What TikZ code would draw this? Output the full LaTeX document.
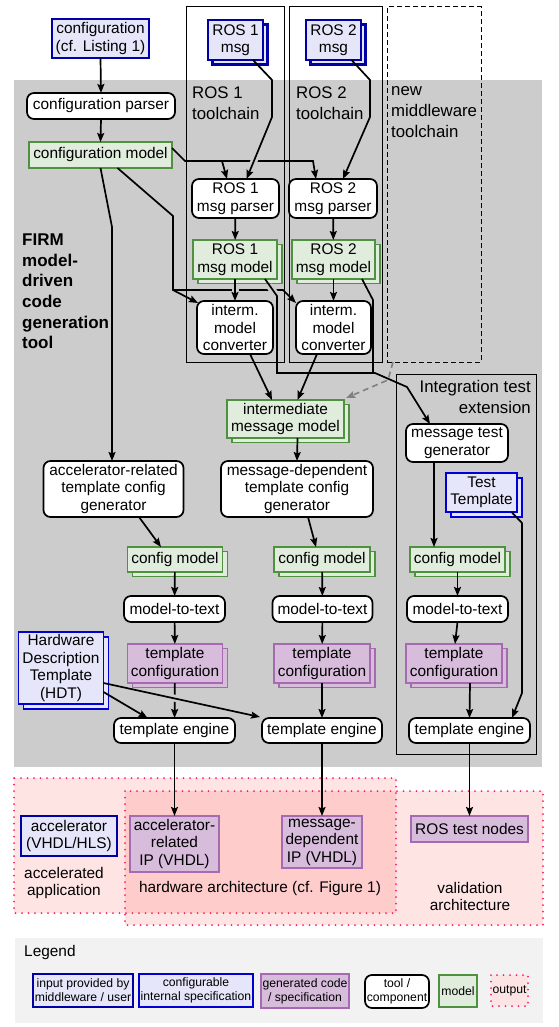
\documentclass[tikz,border=0pt]{standalone}
\usepackage{fontspec}
\setmainfont{Liberation Sans}
\usetikzlibrary{arrows.meta}
\definecolor{bggray}{RGB}{204,204,204}
\definecolor{leggray}{RGB}{242,242,242}
\definecolor{lav}{RGB}{230,230,250}
\definecolor{dblue}{RGB}{0,0,165}
\definecolor{sblue}{RGB}{0,0,210}
\definecolor{mgreen}{RGB}{80,145,65}
\definecolor{mgreenf}{RGB}{224,236,220}
\definecolor{pborder}{RGB}{166,106,176}
\definecolor{pfill}{RGB}{216,188,220}
\definecolor{outred}{RGB}{255,30,100}
\definecolor{outfill}{RGB}{252,228,228}
\definecolor{dashgray}{RGB}{128,128,128}
\newcommand\fsN{\fontsize{15.4}{17.5}\selectfont}
\newcommand\fsL{\fontsize{16.8}{21}\selectfont}
\newcommand\fsF{\fontsize{17}{20.7}\selectfont\bfseries}
\newcommand\fsS{\fontsize{12.2}{14}\selectfont}
\begin{document}
\begin{tikzpicture}[x=1pt,y=-1pt,
  arr/.style={line width=1.7pt,-{Stealth[length=9pt,width=7pt,inset=1.5pt]}},
  ln/.style={line width=1.7pt},
  bridge/.style={draw=bggray,line width=7pt},
  dasharr/.style={draw=dashgray,line width=1.6pt,dash pattern=on 6pt off 4pt,-{Stealth[length=9pt,width=7pt,inset=1.5pt]}},
  basebox/.style={align=center,font=\fsN,inner sep=0pt,outer sep=0pt},
  tool/.style={basebox,draw=black,fill=white,line width=1.7pt,rounded corners=7pt},
  model/.style={basebox,draw=mgreen,fill=mgreenf,line width=1.4pt},
  mstack/.style={model,preaction={draw=mgreen,fill=mgreenf,line width=1.4pt,transform canvas={shift={(5pt,-4.5pt)}}}},
  gen/.style={basebox,draw=pborder,fill=pfill,line width=1.3pt},
  pstack/.style={gen,preaction={draw=pborder,fill=pfill,line width=1.3pt,transform canvas={shift={(5pt,-4.5pt)}}}},
  inp/.style={basebox,draw=dblue,fill=lav,line width=2.8pt},
  istack/.style={inp,preaction={draw=dblue,fill=lav,line width=2.8pt,transform canvas={shift={(4.5pt,-4.5pt)}}}},
  spec/.style={basebox,draw=sblue,fill=lav,line width=1.1pt},
  sstack/.style={spec,preaction={draw=sblue,fill=lav,line width=1.1pt,transform canvas={shift={(5pt,-5pt)}}}},
  container/.style={draw=black,line width=1pt,inner sep=0pt,outer sep=0pt},
  outreg/.style={draw=outred,line width=2pt,line cap=round,dash pattern=on 0pt off 6.5pt},
  lbl/.style={font=\fsL,inner sep=0pt,align=left}
]
\useasboundingbox (0,0) rectangle (558,1027);
% backgrounds
\fill[bggray] (14,80) rectangle (542,767);
\fill[leggray] (15,938) rectangle (543,1023);
\fill[red,fill opacity=0.105] (14,778) rectangle (396,913);
\fill[red,fill opacity=0.105] (125,791) rectangle (543,925);
\draw[outreg] (14,778) rectangle (396,913);
\draw[outreg] (125,791) rectangle (543,925);
% containers
\node[container,minimum width=98,minimum height=355] (tc1) at (235,184.5) {};
\node[container,minimum width=93,minimum height=355] (tc2) at (335.5,184.5) {};
\node[container,dash pattern=on 5pt off 3pt,minimum width=94,minimum height=355] (newtc) at (434,184.5) {};
\node[container,minimum width=140,minimum height=380] (itbox) at (466,564) {};
% labels
\node[lbl,anchor=north west] (l1) at (192,86.5) {ROS 1\\toolchain};
\node[lbl,anchor=north west] (l2) at (296,86.5) {ROS 2\\toolchain};
\node[lbl,anchor=north west] (l3) at (391,86.5) {new\\middleware\\toolchain};
\node[lbl,anchor=north east,align=right] (l4) at (531,380.5) {Integration test\\extension};
\node[font=\fsF,inner sep=0pt,align=left,anchor=north west] (firm) at (22,233.5) {FIRM\\model-\\driven\\code\\generation\\tool};
% nodes
\node[inp,minimum width=97,minimum height=39] (cfg) at (100.5,38.5) {configuration\\(cf. Listing 1)};
\node[istack,minimum width=55,minimum height=40] (r1msg) at (235.5,40) {ROS 1\\msg};
\node[istack,minimum width=55,minimum height=40] (r2msg) at (333.5,40) {ROS 2\\msg};
\node[tool,minimum width=148,minimum height=26] (cfgp) at (101,106) {configuration parser};
\node[model,minimum width=143,minimum height=26] (cfgm) at (100.5,155) {configuration model};
\node[tool,minimum width=87,minimum height=39] (r1p) at (235.5,198.5) {ROS 1\\msg parser};
\node[tool,minimum width=88,minimum height=39] (r2p) at (333,198.5) {ROS 2\\msg parser};
\node[mstack,minimum width=84,minimum height=39] (r1m) at (235,259.5) {ROS 1\\msg model};
\node[mstack,minimum width=83,minimum height=39] (r2m) at (333.5,259.5) {ROS 2\\msg model};
\node[tool,minimum width=76,minimum height=53] (r1c) at (235,327.5) {interm.\\model\\converter};
\node[tool,minimum width=75,minimum height=53] (r2c) at (333.5,327.5) {interm.\\model\\converter};
\node[mstack,minimum width=117,minimum height=38] (imm) at (285.5,419) {intermediate\\message model};
\node[tool,minimum width=102,minimum height=38] (itg) at (457,443) {message test\\generator};
\node[sstack,minimum width=71,minimum height=39] (tt) at (481.5,492.5) {Test\\Template};
\node[tool,minimum width=140,minimum height=56] (accgen) at (113.5,489) {accelerator-related\\template config\\generator};
\node[tool,minimum width=152,minimum height=56] (msggen) at (297,489) {message-dependent\\template config\\generator};
\node[mstack,minimum width=95,minimum height=25] (cm1) at (175,559.5) {config model};
\node[mstack,minimum width=96,minimum height=25] (cm2) at (322,559.5) {config model};
\node[mstack,minimum width=95,minimum height=25] (cm3) at (457.5,559.5) {config model};
\node[tool,minimum width=101,minimum height=26] (mt1) at (174.5,609) {model-to-text};
\node[tool,minimum width=100,minimum height=26] (mt2) at (322.5,609) {model-to-text};
\node[tool,minimum width=101,minimum height=26] (mt3) at (457.5,609) {model-to-text};
\node[pstack,minimum width=95,minimum height=39] (tc1n) at (175,663.5) {template\\configuration};
\node[pstack,minimum width=96,minimum height=39] (tc2n) at (322,663.5) {template\\configuration};
\node[pstack,minimum width=96,minimum height=39] (tc3n) at (454,663.5) {template\\configuration};
\node[sstack,minimum width=85,minimum height=72] (hdt) at (61,668) {Hardware\\Description\\Template\\(HDT)};
\node[tool,minimum width=121,minimum height=25] (te1) at (174.5,730.5) {template engine};
\node[tool,minimum width=120,minimum height=25] (te2) at (322,730.5) {template engine};
\node[tool,minimum width=121,minimum height=25] (te3) at (469.5,730.5) {template engine};
\node[inp,minimum width=96,minimum height=40] (acc) at (69,836) {accelerator\\(VHDL/HLS)};
\node[gen,minimum width=89,minimum height=56] (ip1) at (174.5,844) {accelerator-\\related\\IP (VHDL)};
\node[gen,minimum width=80,minimum height=52] (ip2) at (322,842) {message-\\dependent\\IP (VHDL)};
\node[gen,minimum width=117,minimum height=26] (rtn) at (469.5,829) {ROS test nodes};
\node[font=\fsN,align=center,inner sep=0pt] (accapp) at (64,883) {accelerated\\application};
\node[font=\fsN,align=center,inner sep=0pt] (hwarch) at (260,889) {hardware architecture (cf. Figure 1)};
\node[font=\fsN,align=center,inner sep=0pt] (valarch) at (470,896.5) {validation\\architecture};
% legend
\node[font=\fsN,inner sep=0pt,anchor=west] (legt) at (24,953) {Legend};
\node[inp,font=\fsS,minimum width=100,minimum height=33] (lg1) at (83,990.5) {input provided by\\middleware / user};
\node[spec,font=\fsS,minimum width=114,minimum height=33] (lg2) at (196,990.5) {configurable\\internal specification};
\node[gen,font=\fsS,minimum width=88,minimum height=34] (lg3) at (305,991) {generated code\\/ specification};
\node[tool,font=\fsS,minimum width=64,minimum height=33] (lg4) at (397,991.5) {tool /\\component};
\node[model,font=\fsS,minimum width=38,minimum height=32] (lg5) at (458,991) {model};
\node[basebox,font=\fsS,fill=outfill,minimum width=37,minimum height=31] (lg6) at (509.5,990.5) {output};
\draw[outreg] (lg6.north west) rectangle (lg6.south east);
% junction coordinates
\coordinate (j1) at (222,161);
\coordinate (j2) at (173,290);
\coordinate (j3) at (373,373);
% under lines
\draw[arr] ([yshift=-6pt]cfgm.north east) -- (185,161) -- (313,161) -- ([xshift=-17pt]r2p.north);
\draw[arr] (j1) -- ([xshift=-8.5pt]r1p.north);
\draw[arr] ([xshift=17pt]cfgm.south) -- (173,216) -- (j2) -- ([shift={(1pt,-2pt)}]r1c.north west);
\draw[arr] (j2) -- (283,290) -- ([shift={(0pt,-2pt)}]r2c.north west);
\draw[arr] (tc1n) -- (te1);
% masks
\draw[bridge] (256.5,155) -- (251.5,167);
\draw[bridge] (235,285) -- (235,295);
\draw[bridge] (269,285.5) -- (275.5,294);
\draw[bridge] (167,696.5) -- (183,700);
% over lines
\draw[arr] ([xshift=17.5pt]r1msg.south) -- (272,80) -- (272,117) -- ([xshift=11pt]r1p.north);
\draw[arr] ([xshift=18pt]r2msg.south) -- (370,80) -- (370,117) -- ([xshift=10pt]r2p.north);
\draw[arr] (r1p) -- (r1m);
\draw[arr] (r2p) -- (r2m);
\draw[arr] (r1m) -- (r1c);
\draw[arr] (r2m) -- (r2c);
\draw[arr] ([xshift=30pt]r1m.south) -- (277,296) -- (277,373) -- (j3) -- (375,373) -- (407,387) -- ([xshift=-27pt]itg.north);
\draw[ln] ([xshift=28.5pt]r2m.south) -- (373,300) -- (j3);
\draw[arr] ([xshift=15pt]r1c.south) -- ([xshift=-13.5pt]imm.north);
\draw[arr] ([xshift=-16.5pt]r2c.south) -- ([xshift=12pt]imm.north);
\draw[dasharr] ([xshift=6pt]newtc.south west) -- (388,380) -- ([shift={(2pt,2pt)}]imm.north east);
\draw[arr] (cfg.south) -- (cfgp.north);
\draw[arr] (cfgp.south) -- (cfgm.north);
\draw[arr] (cfgm.south) -- (112,227) -- ([xshift=-1.5pt]accgen.north);
\draw[arr] ([xshift=12pt]imm.south) -- (msggen.north);
\draw[arr] ([xshift=-23pt]itg.south) -- ([xshift=-23.5pt]cm3.north);
\draw[arr] ([xshift=30pt]tt.south) -- (522,523) -- (522,693) -- ([xshift=42.5pt]te3.north);
\draw[arr] ([xshift=25.5pt]accgen.south) -- ([xshift=-14pt]cm1.north);
\draw[arr] ([xshift=11pt]msggen.south) -- ([xshift=-6pt]cm2.north);
\draw[arr] (cm1) -- (mt1);
\draw[arr] (cm2) -- (mt2);
\draw[arr] (cm3) -- (mt3);
\draw[arr] (mt1) -- (tc1n);
\draw[arr] (mt2) -- (tc2n);
\draw[arr] (mt3.south) -- ([xshift=1pt]tc3n.north);
\draw[arr] (tc2n) -- (te2);
\draw[arr] ([xshift=16pt]tc3n.south) -- (te3.north);
\draw[arr] ([yshift=-15pt]hdt.east) -- ([shift={(-2pt,1pt)}]te2.north west);
\draw[arr] ([yshift=-24pt]hdt.east) -- ([xshift=-27pt]te1.north);
\draw[arr] (te1) -- (ip1);
\draw[arr] (te2) -- (ip2);
\draw[arr] (te3) -- (rtn);
\end{tikzpicture}
\end{document}
